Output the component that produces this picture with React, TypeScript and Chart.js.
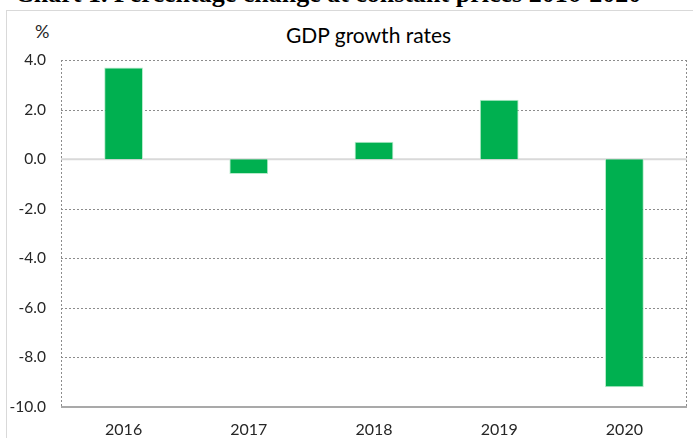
import React, { useEffect, useRef } from "react";
import { Chart, registerables } from "chart.js";

Chart.register(...registerables);

const categories = ["2016", "2017", "2018", "2019", "2020"];
const growthValues = [3.7, -0.6, 0.7, 2.4, -9.2];
const yTicks = [4, 2, 0, -2, -4, -6, -8, -10];

const FONT = "Lato, 'Open Sans', sans-serif";

const gridPlugin = {
  id: "excelGrid",
  beforeDatasetsDraw(chart: any) {
    const { ctx, chartArea, scales } = chart;
    const y = scales.y;
    ctx.save();
    ctx.strokeStyle = "#8c8c8c";
    ctx.lineWidth = 1;
    ctx.setLineDash([2, 2]);
    for (const v of yTicks) {
      if (v === 0 || v === -10) continue;
      const py = Math.round(y.getPixelForValue(v)) + 0.5;
      ctx.beginPath();
      ctx.moveTo(chartArea.left, py);
      ctx.lineTo(chartArea.right, py);
      ctx.stroke();
    }
    for (const px of [Math.round(chartArea.left) + 0.5, Math.round(chartArea.right) - 0.5]) {
      ctx.beginPath();
      ctx.moveTo(px, chartArea.top);
      ctx.lineTo(px, chartArea.bottom);
      ctx.stroke();
    }
    ctx.setLineDash([]);
    const z = y.getPixelForValue(0);
    ctx.strokeStyle = "#d9d9d9";
    ctx.lineWidth = 2;
    ctx.beginPath();
    ctx.moveTo(chartArea.left, z);
    ctx.lineTo(chartArea.right, z);
    ctx.stroke();
    const b = y.getPixelForValue(-10);
    ctx.strokeStyle = "#8c8c8c";
    ctx.lineWidth = 1.5;
    ctx.beginPath();
    ctx.moveTo(chartArea.left, b);
    ctx.lineTo(chartArea.right, b);
    ctx.stroke();
    ctx.restore();
  },
};

export default function App() {
  const canvasRef = useRef<HTMLCanvasElement | null>(null);

  useEffect(() => {
    if (!canvasRef.current) return;
    const chart = new Chart(canvasRef.current, {
      type: "bar",
      data: {
        labels: categories,
        datasets: [
          {
            data: growthValues,
            backgroundColor: "#00b050",
            borderColor: "#b7ebcb",
            borderWidth: 1,
            barPercentage: 0.31,
            categoryPercentage: 1,
          },
        ],
      },
      options: {
        animation: false,
        responsive: false,
        maintainAspectRatio: false,
        layout: { padding: { left: 0, top: 60, right: 6, bottom: 0 } },
        plugins: {
          legend: { display: false },
          title: { display: false },
          tooltip: { enabled: false },
        },
        scales: {
          x: {
            grid: { display: false, drawTicks: false },
            border: { display: false },
            ticks: {
              color: "#262626",
              font: { family: FONT, size: 16 },
              padding: 13,
            },
            afterFit: (s: any) => {
              s.height = 31;
            },
          },
          y: {
            min: -10,
            max: 4,
            grid: { display: false, drawTicks: false },
            border: { display: false },
            afterBuildTicks: (s: any) => {
              s.ticks = yTicks.map((v) => ({ value: v }));
            },
            ticks: {
              color: "#262626",
              font: { family: FONT, size: 15.5 },
              padding: 15,
              callback: (v: any) => Number(v).toFixed(1),
            },
            afterFit: (s: any) => {
              s.width = 61;
            },
          },
        },
      },
      plugins: [gridPlugin],
    });
    return () => chart.destroy();
  }, []);

  return (
    <div
      style={{
        position: "fixed",
        left: 0,
        top: 0,
        width: 693,
        height: 438,
        overflow: "hidden",
        background: "#fff",
      }}
    >
      <div
        style={{
          position: "absolute",
          left: 15,
          top: -21,
          fontFamily: "'Liberation Serif', serif",
          fontWeight: "bold",
          fontSize: 26,
          whiteSpace: "nowrap",
          color: "#000",
        }}
      >
        Chart 1. Percentage change at constant prices 2016-2020
      </div>
      <div
        style={{
          position: "absolute",
          left: 6,
          top: 10,
          width: 700,
          height: 460,
          border: "1.5px solid #d9d9d9",
          boxSizing: "border-box",
        }}
      />
      <div
        style={{
          position: "absolute",
          left: 35,
          top: 20,
          fontFamily: FONT,
          fontSize: 18,
          color: "#262626",
        }}
      >
        %
      </div>
      <div
        style={{
          position: "absolute",
          left: 286,
          top: 22,
          fontFamily: FONT,
          fontSize: 21,
          color: "#000",
          whiteSpace: "nowrap",
        }}
      >
        GDP growth rates
      </div>
      <canvas
        ref={canvasRef}
        width={693}
        height={438}
        style={{ position: "absolute", left: 0, top: 0, width: 693, height: 438 }}
      />
    </div>
  );
}
